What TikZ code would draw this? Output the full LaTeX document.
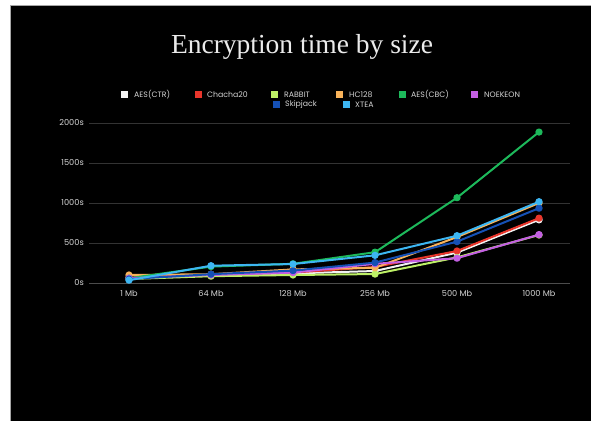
\documentclass[tikz,border=0pt]{standalone}
\usepackage{fontspec}
\setmainfont{Liberation Serif}
\newfontfamily\legfont{Poppins}
\definecolor{cctr}{HTML}{F2F2F2}
\definecolor{ccha}{HTML}{E8352B}
\definecolor{crab}{HTML}{BDF066}
\definecolor{chc}{HTML}{F9B35A}
\definecolor{ccbc}{HTML}{1DB95B}
\definecolor{cnoe}{HTML}{C35FE2}
\definecolor{cskip}{HTML}{1550B5}
\definecolor{cxtea}{HTML}{3DB6F2}
\definecolor{gridc}{HTML}{333333}
\definecolor{labc}{HTML}{D4D4D4}
\tikzset{
  series/.style={line width=2pt, mark=*, mark size=2.6pt, line join=round},
  leglab/.style={font=\legfont\fontsize{7.8}{8}\selectfont, text=labc, anchor=west, inner sep=0pt},
  axlab/.style={font=\legfont\fontsize{8.2}{9}\selectfont, text=labc, inner sep=0pt},
  legsq/.style={minimum size=7pt, inner sep=0pt},
}
\begin{document}
\begin{tikzpicture}[x=1pt,y=1pt]
\useasboundingbox (0,0) rectangle (591,421);
\fill[white] (0,0) rectangle (591,421);
\fill[black] (10,0) rectangle (591,416);
\draw[gray!70, line width=0.6pt] (10,0) -- (10,416) -- (591,416);
% title
\node[font=\fontsize{27.5}{30}\selectfont, text=white!92!black] (title) at (302,374) {Encryption time by size};
% grid
\foreach \v/\l in {0/0s,500/500s,1000/1000s,1500/1500s,2000/2000s}{
  \draw[gridc, line width=0.8pt] (89,{138+0.08*\v}) -- (570,{138+0.08*\v});
  \node[axlab, anchor=east] (y\v) at (84,{138+0.08*\v}) {\l};
}
\draw[gray!60!black, line width=0.9pt] (89,138) -- (570,138);
% x labels
\foreach \i/\l in {0/1 Mb,1/64 Mb,2/128 Mb,3/256 Mb,4/500 Mb,5/1000 Mb}{
  \node[axlab] (x\i) at ({129+82*\i},127) {\l};
}
% legend
\node[legsq, fill=cctr] (s1) at (124,326) {}; \node[leglab] (l1) at (134,326) {AES(CTR)};
\node[legsq, fill=ccha] (s2) at (198,326) {}; \node[leglab] (l2) at (207,326) {Chacha20};
\node[legsq, fill=crab] (s3) at (274,326) {}; \node[leglab] (l3) at (284,326) {RABBIT};
\node[legsq, fill=chc] (s4) at (339,326) {}; \node[leglab] (l4) at (349,326) {HC128};
\node[legsq, fill=ccbc] (s5) at (402,326) {}; \node[leglab] (l5) at (411,326) {AES(CBC)};
\node[legsq, fill=cnoe] (s6) at (474,326) {}; \node[leglab] (l6) at (484,326) {NOEKEON};
\node[legsq, fill=cskip] (s7) at (276,316) {}; \node[leglab] (l7) at (285,316) {Skipjack};
\node[legsq, fill=cxtea] (s8) at (346,316) {}; \node[leglab] (l8) at (355,316) {XTEA};
% data
\begin{scope}[shift={(0,138)}, y=0.08pt]
\draw[series, cctr] plot coordinates {(129,60) (211,95) (293,120) (375,150) (457,380) (539,790)};
\draw[series, ccha] plot coordinates {(129,70) (211,100) (293,130) (375,200) (457,400) (539,810)};
\draw[series, crab] plot coordinates {(129,50) (211,85) (293,100) (375,112) (457,320) (539,600)};
\draw[series, chc] plot coordinates {(129,100) (211,110) (293,170) (375,190) (457,575) (539,1000)};
\draw[series, ccbc] plot coordinates {(129,60) (211,205) (293,240) (375,385) (457,1066) (539,1887)};
\draw[series, cnoe] plot coordinates {(129,60) (211,100) (293,130) (375,240) (457,310) (539,605)};
\draw[series, cskip] plot coordinates {(129,50) (211,110) (293,155) (375,255) (457,517) (539,935)};
\draw[series, cxtea] plot coordinates {(129,35) (211,216) (293,237) (375,346) (457,591) (539,1016)};
\end{scope}
\end{tikzpicture}
\end{document}
